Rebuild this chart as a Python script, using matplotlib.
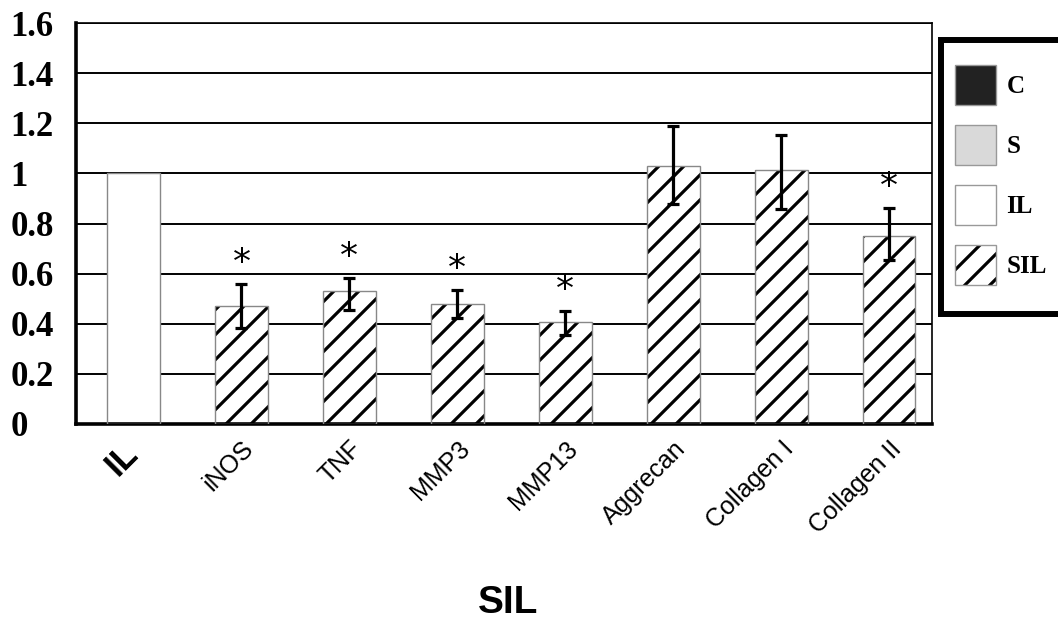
import numpy as np
import matplotlib.pyplot as plt
import matplotlib.hatch as mhatch
from matplotlib.patches import Patch, Rectangle
from matplotlib.transforms import ScaledTranslation

# data
categories = ['IL', 'iNOS', 'TNF', 'MMP3', 'MMP13', 'Aggrecan', 'Collagen I', 'Collagen II']
values = [1.0, 0.47, 0.532, 0.48, 0.406, 1.03, 1.012, 0.75]
err_hi = [0.0, 0.087, 0.052, 0.055, 0.045, 0.16, 0.142, 0.113]
err_lo = [0.0, 0.087, 0.077, 0.056, 0.052, 0.153, 0.155, 0.096]
starred = [False, True, True, True, True, False, False, True]
legend_labels = ['C', 'S', 'IL', 'SIL']
legend_colors = ['#222222', '#d9d9d9', 'white', 'white']


# a single '/' gives 8 lines per hatch unit instead of 6 (spacing closer to the original)
_ne_init = mhatch.NorthEastHatch.__init__
def _sparse_ne(self, hatch, density):
    _ne_init(self, hatch, density)
    n = hatch.count('/') * 8
    self.num_lines = n
    self.num_vertices = (n + 1) * 2 if n else 0
mhatch.NorthEastHatch.__init__ = _sparse_ne

plt.rcParams['hatch.linewidth'] = 2.3
plt.rcParams['hatch.color'] = 'black'

fig = plt.figure(figsize=(10.58, 6.31), dpi=100)
ax = fig.add_axes([76/1058, 1-424/631, (932-76)/1058, (424-23)/631])

x = np.arange(len(categories))
w = 0.49
hatches = ['' if c == 'IL' else '/' for c in categories]

# gridlines behind bars
ax.set_axisbelow(True)
ax.yaxis.grid(True, color='black', linewidth=1.4)

# hatch layer then grey outline
ax.bar(x, values, w, color='white', edgecolor='black', linewidth=0, hatch=hatches, zorder=2)
ax.bar(x, values, w, color='none', edgecolor='#888888', linewidth=1.0, zorder=3)

sil = x[1:]
ax.errorbar(sil, np.array(values)[1:], yerr=[np.array(err_lo)[1:], np.array(err_hi)[1:]],
            fmt='none', ecolor='black', elinewidth=2.3, capsize=4.5, capthick=2.3, zorder=4)

for xi, v, e, s in zip(x, values, err_hi, starred):
    if s:
        ax.annotate('*', (xi, v + e), xytext=(0, 8), textcoords='offset points',
                    ha='center', va='baseline', fontsize=26, family='DejaVu Sans')

ax.set_xlim(-0.533, 7.398)
ax.set_ylim(0, 1.6)
ax.set_yticks(np.arange(0, 1.61, 0.2))
ax.set_yticklabels(['0', '0.2', '0.4', '0.6', '0.8', '1', '1.2', '1.4', '1.6'],
                   fontsize=25, fontweight='bold', family='Liberation Serif', ha='left')
ax.tick_params(axis='y', length=0, pad=47)

ax.set_xticks(x)
ax.set_xticklabels(categories, rotation=45, ha='right', va='top', rotation_mode='anchor',
                   fontsize=18, family='Liberation Sans')
ax.tick_params(axis='x', length=0, pad=9)
lbl0 = ax.get_xticklabels()[0]
lbl0.set_fontsize(25)
lbl0.set_fontweight('bold')
lbl0.set_transform(lbl0.get_transform() + ScaledTranslation(-0.12, 0, fig.dpi_scale_trans))

for side in ['left', 'bottom']:
    ax.spines[side].set_linewidth(2.6)
for side in ['top', 'right']:
    ax.spines[side].set_linewidth(1.2)

fig.text(508/1058, 1-603/631, 'SIL', ha='center', va='center', fontsize=28,
         fontweight='bold', family='Liberation Sans')

# legend: thick black frame drawn separately
frame = Rectangle((941/1058, 1-314/631), (1090-941)/1058, (314-40)/631,
                  transform=fig.transFigure, facecolor='white', edgecolor='black',
                  linewidth=4.3, clip_on=False)
fig.add_artist(frame)

handles = []
for lab, col in zip(legend_labels, legend_colors):
    fill = Patch(facecolor=col, edgecolor='black', linewidth=0,
                 hatch='/' if lab == 'SIL' else '')
    outline = Patch(facecolor='none', edgecolor='#999999', linewidth=1)
    handles.append((fill, outline))
leg = fig.legend(handles=handles, labels=legend_labels, loc='upper left',
                 bbox_to_anchor=(955/1058, 1-65/631),
                 prop={'family': 'Liberation Serif', 'weight': 'bold', 'size': 18},
                 handlelength=1.64, handleheight=2.08, labelspacing=0.8, borderpad=0,
                 handletextpad=0.42, borderaxespad=0, frameon=False)

fig.savefig('out.png', dpi=100)
